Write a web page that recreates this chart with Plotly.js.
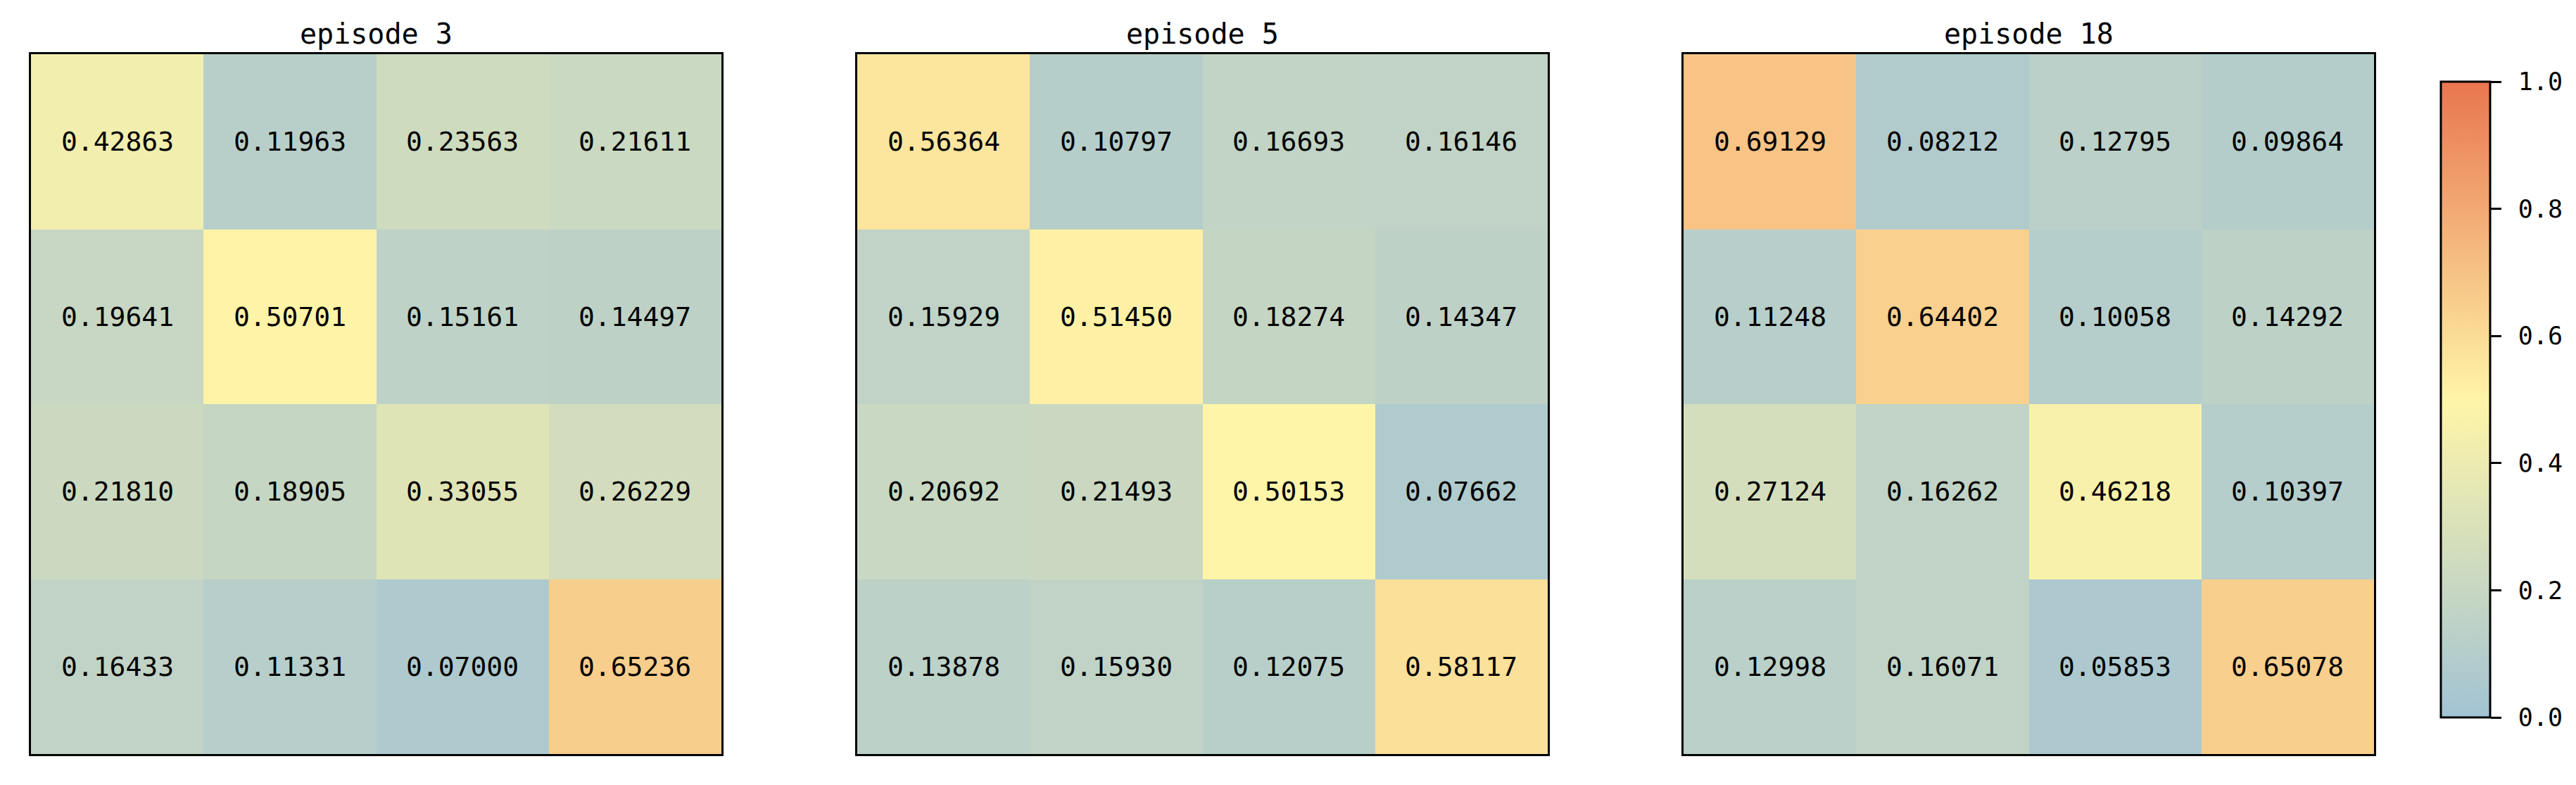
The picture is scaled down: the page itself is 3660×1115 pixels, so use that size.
<!DOCTYPE html>
<html>
<head>
<meta charset="utf-8">
<script src="https://cdn.plot.ly/plotly-3.0.1.min.js"></script>
<style>
    html, body { margin: 0; padding: 0; background: white; }
    #chart { width: 3660px; height: 1115px; }
</style>
</head>
<body>
<div id="chart"></div>
<script>
// Data (rows top to bottom)
const episodeNames = ['episode 3', 'episode 5', 'episode 18']
const cols = [0, 1, 2, 3]
const rows = [0, 1, 2, 3]

const episode3 = [
    [0.42863, 0.11963, 0.23563, 0.21611],
    [0.19641, 0.50701, 0.15161, 0.14497],
    [0.21810, 0.18905, 0.33055, 0.26229],
    [0.16433, 0.11331, 0.07000, 0.65236]
]
const episode5 = [
    [0.56364, 0.10797, 0.16693, 0.16146],
    [0.15929, 0.51450, 0.18274, 0.14347],
    [0.20692, 0.21493, 0.50153, 0.07662],
    [0.13878, 0.15930, 0.12075, 0.58117]
]
const episode18 = [
    [0.69129, 0.08212, 0.12795, 0.09864],
    [0.11248, 0.64402, 0.10058, 0.14292],
    [0.27124, 0.16262, 0.46218, 0.10397],
    [0.12998, 0.16071, 0.05853, 0.65078]
]
const colorbarTicks = [0, 0.2, 0.4, 0.6, 0.8, 1.0]

const matrices = [episode3, episode5, episode18]

const FONT = '"DejaVu Sans Mono", "Liberation Mono", monospace'
const W = 3660
const H = 1115

// panel placement in pixels
const panelX = [[44, 1025], [1218, 2199], [2392, 3373]]
const panelTop = 77
const panelBottom = 1071

const colorscale = [
    [0, '#a2c3d4'],
    [0.5, '#fff5a8'],
    [1, '#e9764f']
]

const traces = []
const layout = {
    width: W,
    height: H,
    paper_bgcolor: 'white',
    plot_bgcolor: 'white',
    margin: { t: 0, r: 0, b: 0, l: 0 },
    font: { family: FONT, color: 'black', size: 36 },
    showlegend: false,
    annotations: []
}

matrices.forEach((z, i) => {
    const n = i + 1
    const xa = n === 1 ? 'x' : `x${n}`
    const ya = n === 1 ? 'y' : `y${n}`

    traces.push({
        type: 'heatmap',
        z: z,
        x: cols,
        y: rows,
        xaxis: xa,
        yaxis: ya,
        zmin: 0,
        zmax: 1,
        colorscale: colorscale,
        texttemplate: '%{z:.5f}',
        textfont: { family: FONT, size: 38, color: 'black' },
        hoverinfo: 'skip',
        showscale: i === 0,
        colorbar: {
            x: 3468 / W,
            xanchor: 'left',
            y: 1 - (116 + 1019) / 2 / H,
            yanchor: 'middle',
            len: 1019 - 116,
            lenmode: 'pixels',
            thickness: 70,
            thicknessmode: 'pixels',
            outlinewidth: 3,
            outlinecolor: 'black',
            tickvals: colorbarTicks,
            // small leading gap pushes the label off the tick, like the original
            ticktext: colorbarTicks.map(v => '<span style="font-size:28px"> </span>' + v.toFixed(1)),
            ticks: 'outside',
            ticklen: 15,
            tickwidth: 3,
            tickcolor: 'black',
            tickfont: { family: FONT, size: 35, color: 'black' },
            xpad: 0,
            ypad: 0
        }
    })

    const axisCommon = {
        showgrid: false,
        zeroline: false,
        showticklabels: false,
        ticks: '',
        showline: true,
        mirror: true,
        linecolor: 'black',
        linewidth: 3
    }

    layout[n === 1 ? 'xaxis' : `xaxis${n}`] = {
        ...axisCommon,
        domain: [panelX[i][0] / W, panelX[i][1] / W],
        range: [-0.5, 3.5],
        anchor: ya
    }
    layout[n === 1 ? 'yaxis' : `yaxis${n}`] = {
        ...axisCommon,
        domain: [1 - panelBottom / H, 1 - panelTop / H],
        range: [3.5, -0.5],
        anchor: xa
    }

    layout.annotations.push({
        text: episodeNames[i],
        xref: 'paper',
        yref: 'paper',
        x: (panelX[i][0] + panelX[i][1]) / 2 / W,
        y: 1 - 48 / H,
        xanchor: 'center',
        yanchor: 'middle',
        showarrow: false,
        font: { family: FONT, size: 40, color: 'black' }
    })
})

Plotly.newPlot('chart', traces, layout, { displayModeBar: false, staticPlot: true })
</script>
</body>
</html>
